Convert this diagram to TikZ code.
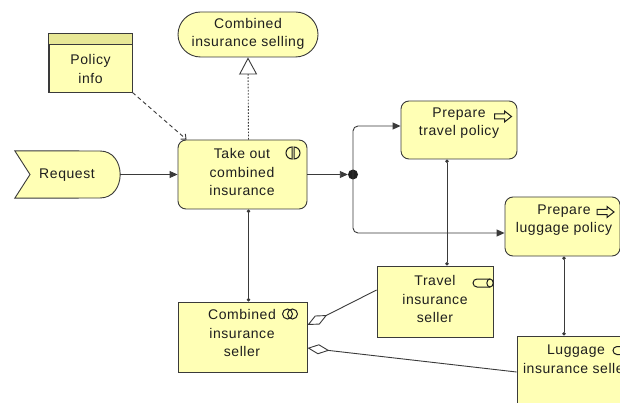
\documentclass[tikz,border=0pt]{standalone}
\usepackage{fontspec}
\setmainfont{Liberation Sans}[LetterSpace=4]
\usetikzlibrary{arrows.meta,calc}

\definecolor{archy}{RGB}{255,255,181}
\definecolor{archyhead}{RGB}{232,232,150}
\definecolor{edge}{RGB}{58,58,58}
\definecolor{ink}{RGB}{30,30,30}

\begin{document}
\begin{tikzpicture}[x=1pt,y=-1pt,
  elem/.style={draw=edge, fill=archy, line width=0.9pt, inner sep=0pt},
  proc/.style={elem, rounded corners=8pt},
  lbl/.style={font=\fontsize{14}{18.5}\selectfont, text=ink, align=center, inner sep=0pt},
  conn/.style={draw=edge, line width=0.9pt},
  flow/.style={conn, -{Triangle[length=8pt,width=7pt]}},
  assign/.style={conn, {Circle[length=3.6pt]}-{Circle[length=3.6pt]}},
  agg/.style={conn, {Diamond[open,length=22pt,width=10pt,fill=white]}-},
  realize/.style={conn, dash pattern=on 1.6pt off 1.6pt,
                  -{Triangle[open,length=17pt,width=18pt,fill=white]}},
  access/.style={conn, dash pattern=on 4pt off 3pt,
                 -{Straight Barb[length=4pt,width=7pt]}},
  icon/.style={draw=ink, line width=1pt}
]
\useasboundingbox (0,0) rectangle (620,403);
\fill[white] (0,0) rectangle (620,403);

\begin{scope}
\clip (0,0) rectangle (620,403);

% ---- elements ----
\node[elem, rounded corners=22.5pt, minimum width=140pt, minimum height=45pt]
  (selling) at (248,34.5) {};
\node[elem, minimum width=83pt, minimum height=58pt] (policy) at (90.5,63) {};
\fill[archyhead] ($(policy.north west)+(0.45,0.45)$) rectangle ($(policy.north east)+(-0.45,11)$);
\draw[edge, line width=0.9pt] ($(policy.north west)+(0,11)$) -- ($(policy.north east)+(0,11)$);
\draw[edge, line width=0.9pt] (policy.north west) rectangle (policy.south east);

% business event
\node[minimum width=105pt, minimum height=47pt, inner sep=0pt] (req) at (67.5,174.5) {};
\draw[elem] (req.north west) -- (100,151)
  .. controls (113,151) and (120,162) .. (req.east)
  .. controls (120,187) and (113,198) .. (100,198)
  -- (req.south west) -- (30,174.5) -- cycle;

\node[proc, minimum width=129pt, minimum height=69pt] (take) at (242.5,174.5) {};
\node[proc, minimum width=116pt, minimum height=58pt] (ptravel) at (459,130) {};
\node[proc, minimum width=115pt, minimum height=59pt] (pluggage) at (562.5,226.5) {};
\node[elem, minimum width=129pt, minimum height=70pt] (cseller) at (242.5,337) {};
\node[elem, minimum width=116pt, minimum height=71pt] (tseller) at (435,301.5) {};
\node[elem, minimum width=116pt, minimum height=90pt] (lseller) at (575,381) {};
\node[circle, fill=ink, minimum size=10pt, inner sep=0pt] (j) at (353,174.5) {};

% ---- labels ----
\node[lbl] (tselling) at (248,34) {Combined\\insurance selling};
\node[lbl] (tpolicy) at (90.5,69) {Policy\\info};
\node[lbl] (treq) at (67,175) {Request};
\node[lbl] (ttake) at (242,172) {Take out\\combined\\insurance};
\node[lbl] (tptravel) at (459,123) {Prepare\\travel policy};
\node[lbl] (tpluggage) at (564,220) {Prepare\\luggage policy};
\node[lbl] (tcseller) at (242,333) {Combined\\insurance\\seller};
\node[lbl] (ttseller) at (435,299) {Travel\\insurance\\seller};
\node[lbl] (tlseller) at (576,359) {Luggage\\insurance seller};

% ---- icons ----
% interaction
\begin{scope}[shift={(293,153)}, y=1pt]
  \draw[icon] (-1,6) arc[start angle=90,end angle=270,radius=6] -- cycle;
  \draw[icon] (1,6) arc[start angle=90,end angle=-90,radius=6] -- cycle;
\end{scope}
% process arrows
\foreach \cx/\cy in {503/116.5, 605.5/212}{
  \begin{scope}[shift={(\cx,\cy)}, y=1pt]
    \draw[icon, line join=miter] (-8.5,-2.5) -- (1.5,-2.5) -- (1.5,-5.5) -- (8.5,0)
      -- (1.5,5.5) -- (1.5,2.5) -- (-8.5,2.5) -- cycle;
  \end{scope}}
% collaboration
\draw[icon] (287.5,314) circle[radius=5];
\draw[icon] (292.5,314) circle[radius=5];
% roles
\foreach \cx/\cy in {483.5/283, 623.5/350.5}{
  \begin{scope}[shift={(\cx,\cy)}, y=1pt]
    \draw[icon] (6.5,4) -- (-6.5,4) arc[start angle=90,end angle=270,x radius=4,y radius=4]
      -- (6.5,-4);
    \draw[icon] (6.5,0) ellipse[x radius=3.2,y radius=4];
  \end{scope}}

% ---- relations ----
\draw[flow] (req.east) -- (take.west);
\draw[realize] ([xshift=6pt]take.north) -- (selling.south);
\draw[access] (policy.south east) -- ([xshift=9pt]take.north west);
\draw[flow] (take.east) -- (j);
\draw[flow, rounded corners=5pt] (j.center) |- ([yshift=4pt]ptravel.west);
\draw[flow, rounded corners=5pt] (j.center) |- ([yshift=-6.5pt]pluggage.west);
\draw[assign] ([xshift=6pt]take.south) -- ([xshift=6pt]cseller.north);
\draw[assign] ([xshift=-12pt]ptravel.south) -- ([xshift=12pt]tseller.north);
\draw[assign] ([xshift=1.5pt]pluggage.south) -- ([xshift=-11pt]lseller.north);
\draw[agg] ([yshift=12pt]cseller.east) -- ([yshift=11.5pt]tseller.west);
\draw[agg] ([yshift=-11pt]cseller.east) -- ([yshift=9pt]lseller.west);
\end{scope}
\end{tikzpicture}
\end{document}
